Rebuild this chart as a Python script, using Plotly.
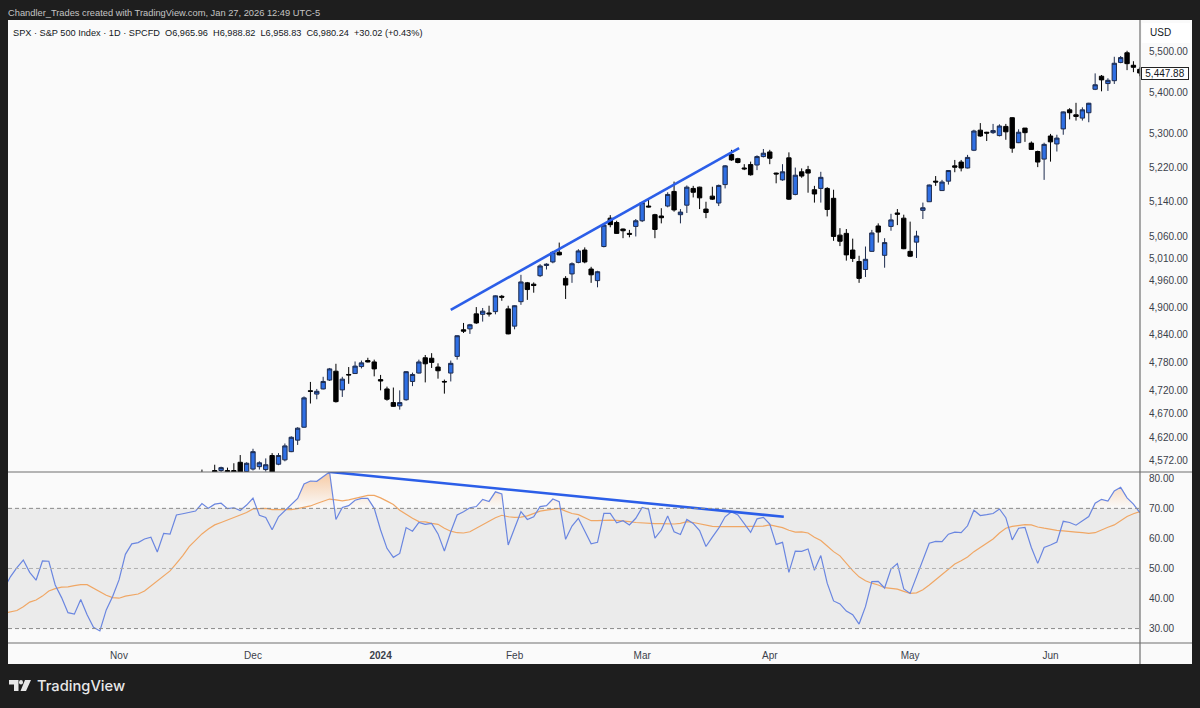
import numpy as np
import plotly.graph_objects as go

# Session index: 0 is the first bar of Nov 2023
bar_start = 13
bar_open = [
    4540,4535,4552,4552,4552,4552,4569,4550,4555,4560,
    4554,4583,4565,4574,4591,4615,4642,4719,4712,4723,
    4742,4761,4721,4754,4756,4771,4784,4781,4743,4723,
    4694,4687,4700,4739,4757,4790,4789,4770,4739,4757,
    4793,4851,4853,4886,4885,4888,4891,4925,4897,4859,
    4913,4955,4952,4971,4994,5002,5024,4965,4975,5001,
    5029,4986,4960,5037,5102,5092,5077,5067,5083,5096,
    5130,5110,5107,5130,5164,5110,5132,5171,5174,5123,
    5153,5137,5180,5251,5241,5219,5227,5226,5246,5257,
    5207,5191,5243,5157,5210,5215,5168,5171,5171,5148,
    5063,5067,5029,5003,4985,5026,5084,5017,5083,5114,
    5102,5026,5047,5120,5140,5188,5166,5188,5224,5233,
    5219,5261,5309,5304,5303,5296,5318,5339,5279,5314,
    5278,5258,5240,5295,5276,5312,5358,5346,5338,5351,
    5408,5440,5422,5429,5474,5498,5467,5457,
]
bar_high = [
    4554,4546,4564,4560,4558,4567,4584,4569,4597,4571,
    4577,4588,4588,4608,4623,4642,4707,4738,4723,4749,
    4768,4777,4749,4770,4782,4784,4790,4786,4753,4728,
    4726,4720,4761,4758,4786,4796,4800,4778,4743,4784,
    4839,4866,4864,4901,4899,4904,4927,4928,4904,4905,
    4973,4957,4956,4997,4999,5027,5046,4970,5001,5031,
    5035,4991,4982,5088,5109,5096,5078,5075,5100,5140,
    5148,5112,5125,5162,5187,5123,5178,5177,5175,5140,
    5175,5180,5226,5262,5243,5228,5234,5249,5264,5262,
    5208,5228,5256,5220,5218,5224,5177,5210,5174,5168,
    5079,5077,5055,5016,5037,5075,5090,5056,5112,5123,
    5110,5094,5073,5138,5180,5200,5191,5214,5238,5238,
    5250,5310,5326,5305,5324,5323,5324,5340,5311,5314,
    5282,5260,5279,5300,5298,5354,5362,5375,5364,5375,
    5447,5443,5435,5488,5490,5503,5477,5462,
]
bar_low = [
    4528,4522,4538,4549,4538,4540,4525,4546,4552,4554,
    4550,4540,4563,4571,4590,4605,4641,4692,4701,4722,
    4740,4694,4706,4734,4755,4767,4780,4750,4720,4698,
    4685,4679,4698,4729,4756,4737,4768,4745,4713,4739,
    4786,4844,4842,4864,4869,4880,4885,4915,4841,4852,
    4906,4917,4933,4968,4985,4999,5017,4919,4955,4999,
    4999,4955,4945,5035,5081,5066,5056,5058,5060,5093,
    5127,5056,5090,5127,5117,5090,5114,5150,5123,5102,
    5144,5130,5171,5236,5230,5214,5201,5214,5244,5228,
    5183,5189,5144,5155,5196,5161,5138,5138,5106,5050,
    5038,5005,5002,4955,4968,5025,5046,4989,5073,5086,
    5031,5013,5011,5100,5140,5177,5165,5180,5209,5211,
    5218,5259,5293,5283,5300,5294,5286,5255,5278,5281,
    5262,5221,5191,5234,5258,5298,5335,5332,5332,5328,
    5406,5403,5404,5421,5472,5455,5450,5440,
]
bar_close = [
    4535,4530,4542,4558,4545,4546,4530,4567,4591,4568,
    4564,4545,4583,4603,4621,4640,4704,4718,4718,4739,
    4766,4696,4744,4753,4772,4779,4781,4766,4740,4701,
    4686,4694,4760,4754,4781,4777,4780,4762,4738,4778,
    4838,4848,4862,4866,4892,4886,4926,4923,4842,4904,
    4957,4940,4949,4993,4997,5024,5018,4950,4998,5027,
    5002,4973,4980,5086,5087,5067,5073,5065,5096,5138,
    5128,5076,5103,5157,5121,5116,5174,5162,5149,5115,
    5146,5178,5224,5238,5232,5217,5203,5246,5254,5242,
    5205,5210,5146,5202,5200,5207,5158,5197,5122,5060,
    5049,5018,5010,4965,5008,5068,5070,5046,5098,5111,
    5032,5015,5061,5126,5179,5186,5186,5213,5221,5219,
    5244,5307,5295,5302,5308,5319,5305,5266,5304,5303,
    5263,5233,5275,5281,5290,5353,5351,5342,5358,5374,
    5419,5431,5430,5472,5486,5471,5462,5447.88,
]

# RSI and its moving average, starting at session -18
rsi_start = -18
rsi = [
    43.4,47.3,50.3,52.8,48.7,46.1,52.5,52.4,44.5,40.3,
    35.3,34.8,39.7,34.6,30.4,29.2,36.2,40.7,46.2,54.7,
    58.2,58.6,59.8,60.4,55.5,61.7,61.4,67.8,68.2,68.7,
    69.1,71.6,70.0,71.4,71.7,69.9,70.2,69.3,71.1,73.4,
    67.7,67.0,62.9,67.2,69.2,71.1,73.3,78.1,79.1,79.0,
    80.5,82.1,66.3,70.3,70.9,72.7,73.3,73.3,70.0,62.8,
    56.7,53.7,55.0,63.6,62.4,65.3,64.7,65.0,61.5,55.8,
    62.2,67.8,68.9,70.2,70.6,73.0,72.3,75.5,74.8,57.8,
    63.4,68.9,66.3,67.2,70.6,70.9,73.1,72.2,59.7,64.1,
    66.7,62.2,58.2,58.7,68.3,68.3,65.2,65.9,64.5,66.7,
    70.3,69.7,60.1,62.8,67.5,62.2,61.3,66.3,65.0,62.6,
    57.3,60.4,63.4,67.2,68.9,67.8,65.0,62.0,66.5,67.0,
    64.8,58.0,58.7,48.7,55.8,55.7,56.5,49.4,54.3,45.1,
    39.2,38.2,35.8,34.6,31.5,37.3,45.6,45.7,43.5,49.8,
    51.6,43.2,41.7,47.3,53.4,58.4,59.0,58.9,61.4,62.1,
    61.9,64.2,69.4,67.6,67.9,68.3,69.8,66.9,59.5,63.4,
    63.7,57.0,51.7,57.0,57.8,58.8,65.7,65.3,64.4,65.9,
    67.3,71.7,73.0,72.4,75.8,77.0,73.5,71.4,68.6,
]
rsi_ma = [
    35.1,35.6,36.0,37.3,38.8,39.5,40.8,42.5,43.3,43.8,
    43.9,44.3,44.6,44.6,43.4,42.1,41.1,40.3,40.1,40.8,
    41.1,41.5,42.5,44.2,45.6,47.6,49.2,51.7,54.3,57.3,
    59.5,61.5,63.1,64.5,65.3,66.1,67.0,67.6,68.6,69.8,
    70.0,70.0,69.6,69.6,69.4,69.6,69.9,70.3,70.8,71.6,
    72.3,73.1,72.8,72.5,72.8,73.3,74.0,74.3,74.3,73.5,
    72.4,71.3,69.4,68.0,66.7,65.6,65.5,65.0,64.7,63.4,
    62.4,61.9,61.8,62.2,63.4,64.7,65.9,66.9,67.7,67.2,
    67.0,67.1,67.5,68.3,69.1,69.4,69.7,70.0,69.1,68.3,
    67.9,67.0,65.9,65.9,66.1,66.1,66.0,65.9,65.6,65.3,
    65.1,65.0,64.9,64.9,64.8,64.8,65.0,65.6,65.3,64.8,
    64.4,64.0,63.9,63.9,63.8,63.7,63.9,64.0,64.0,64.1,
    64.5,64.0,63.6,62.7,62.1,62.2,61.8,60.4,59.3,57.5,
    55.6,54.2,51.7,49.3,47.2,45.9,45.1,44.5,43.6,43.4,
    43.1,42.4,41.7,41.9,42.9,44.5,46.3,47.9,49.8,51.5,
    52.6,53.8,55.6,57.0,58.3,59.8,61.8,63.4,64.0,64.4,
    64.6,64.5,63.8,63.4,63.0,62.7,62.5,62.4,62.1,61.9,
    61.7,61.9,62.9,63.7,64.5,65.8,67.3,68.2,68.9,
]

# hand drawn trend lines (session, value)
price_line_x = [52.0, 97.2]
price_line_y = [4895, 5266]
rsi_line_x = [33.1, 104.2]
rsi_line_y = [82.1, 67.2]

# axis labels
price_ticks = [5500, 5400, 5300, 5220, 5140, 5060, 5010, 4960, 4900, 4840, 4780, 4720, 4670, 4620, 4572]
rsi_ticks = [80, 70, 60, 50, 40, 30]
time_ticks = [0, 21, 41, 62, 82, 102, 124, 146]
time_labels = ["Nov", "Dec", "<b>2024</b>", "Feb", "Mar", "Apr", "May", "Jun"]
last_price = 5447.88

W, H = 1200, 708
FONT = "Liberation Sans, Arial, sans-serif"
BLUE = "#2f6fe4"
LINE_BLUE = "#2b5ee8"
DARK = "#131722"
AXIS = "#6f6f6f"


def px(x):
    return x / W


def py(y):
    return 1 - y / H


bars = np.arange(bar_start, bar_start + len(bar_open))
rsi_x = np.arange(rsi_start, rsi_start + len(rsi))
rsi_arr = np.array(rsi)

# overbought fill: RSI above 70, with the crossings of the level put in
ob_x, ob_y = [], []
for i in range(len(rsi_arr)):
    if i > 0 and (rsi_arr[i - 1] - 70) * (rsi_arr[i] - 70) < 0:
        t = (70 - rsi_arr[i - 1]) / (rsi_arr[i] - rsi_arr[i - 1])
        ob_x.append(rsi_x[i - 1] + t)
        ob_y.append(70)
    ob_x.append(rsi_x[i])
    ob_y.append(max(rsi_arr[i], 70))

fig = go.Figure()

fig.add_trace(go.Candlestick(
    x=bars, open=bar_open, high=bar_high, low=bar_low, close=bar_close,
    increasing=dict(line=dict(color="#1d2b4d", width=1), fillcolor=BLUE),
    decreasing=dict(line=dict(color="#000000", width=1), fillcolor="#000000"),
    whiskerwidth=0, xaxis="x", yaxis="y", showlegend=False,
))
fig.add_trace(go.Scatter(
    x=price_line_x, y=price_line_y, mode="lines",
    line=dict(color=LINE_BLUE, width=2.6), xaxis="x", yaxis="y", showlegend=False,
))

# fill baseline then fill
fig.add_trace(go.Scatter(
    x=ob_x, y=[70] * len(ob_x), mode="lines", line=dict(width=0),
    xaxis="x", yaxis="y2", showlegend=False,
))
fig.add_trace(go.Scatter(
    x=ob_x, y=ob_y, mode="lines", line=dict(width=0), fill="tonexty",
    fillgradient=dict(
        type="vertical", start=83, stop=70,
        colorscale=[[0, "rgba(245,170,105,0.65)"], [1, "rgba(245,170,105,0)"]],
    ),
    xaxis="x", yaxis="y2", showlegend=False,
))
fig.add_trace(go.Scatter(
    x=rsi_x, y=rsi_ma, mode="lines", line=dict(color="#f0a765", width=1.2),
    xaxis="x", yaxis="y2", showlegend=False,
))
fig.add_trace(go.Scatter(
    x=rsi_x, y=rsi, mode="lines", line=dict(color="#6a86e0", width=1.2),
    xaxis="x", yaxis="y2", showlegend=False,
))
fig.add_trace(go.Scatter(
    x=rsi_line_x, y=rsi_line_y, mode="lines",
    line=dict(color=LINE_BLUE, width=2.6), xaxis="x", yaxis="y2", showlegend=False,
))

shapes = [
    # chart panel
    dict(type="rect", xref="paper", yref="paper", x0=px(8), x1=px(1192), y0=py(664), y1=py(20),
         fillcolor="#fafafa", line_width=0, layer="below"),
    # box behind the currency
    dict(type="rect", xref="paper", yref="paper", x0=px(1142), x1=px(1190), y0=py(43), y1=py(23),
         fillcolor="#ffffff", line_width=0, layer="below"),
    # RSI band
    dict(type="rect", xref="x", yref="y2", x0=-17.4, x1=160.03, y0=30, y1=70,
         fillcolor="#ebebeb", line_width=0, layer="below"),
    # pane dividers
    dict(type="line", xref="paper", yref="paper", x0=px(8), x1=px(1192), y0=py(472), y1=py(472),
         line=dict(color=AXIS, width=1.2)),
    dict(type="line", xref="paper", yref="paper", x0=px(8), x1=px(1192), y0=py(643), y1=py(643),
         line=dict(color=AXIS, width=1.2)),
    dict(type="line", xref="paper", yref="paper", x0=px(1140), x1=px(1140), y0=py(664), y1=py(20),
         line=dict(color=AXIS, width=1.2)),
    # TradingView mark
    dict(type="path", xref="paper", yref="paper", fillcolor="#e8e8e8", line_width=0,
         path="M {} {} L {} {} L {} {} L {} {} L {} {} L {} {} Z".format(
             px(9), py(680), px(18.5), py(680), px(18.5), py(691), px(14), py(691), px(14), py(684.5), px(9), py(684.5))),
    dict(type="circle", xref="paper", yref="paper", fillcolor="#e8e8e8", line_width=0,
         x0=px(19), x1=px(23), y0=py(684.5), y1=py(680)),
    dict(type="path", xref="paper", yref="paper", fillcolor="#e8e8e8", line_width=0,
         path="M {} {} L {} {} L {} {} L {} {} Z".format(
             px(25), py(680), px(31), py(680), px(26), py(691), px(20.5), py(691))),
]
for level, colour in [(70, "#8a8a8a"), (50, "#b0b0b0"), (30, "#8a8a8a")]:
    shapes.append(dict(type="line", xref="x", yref="y2", x0=-17.4, x1=160.03, y0=level, y1=level,
                       line=dict(color=colour, width=1, dash="4px,3px")))

annotations = [
    dict(text="Chandler_Trades created with TradingView.com, Jan 27, 2026 12:49 UTC-5",
         x=px(6), y=py(13), font=dict(color="#c4c4c4", size=9.3)),
    dict(text="SPX · S&amp;P 500 Index · 1D · SPCFD&nbsp;&nbsp;O6,965.96&nbsp;&nbsp;H6,988.82&nbsp;&nbsp;L6,958.83&nbsp;&nbsp;C6,980.24&nbsp;&nbsp;+30.02 (+0.43%)",
         x=px(11), y=py(33), font=dict(color=DARK, size=9.2)),
    dict(text="USD", x=px(1148), y=py(33), font=dict(color=DARK, size=10)),
    dict(text="TradingView", x=px(35), y=py(686), font=dict(color="#e8e8e8", size=14.7, family="Inter", weight=500)),
    dict(text=f"{last_price:,.2f}", x=px(1141), y=py(73.5), bgcolor="#ffffff", bordercolor="#222222",
         borderwidth=1, borderpad=0, width=46, height=11, font=dict(color=DARK, size=10)),
]
for a in annotations:
    a.update(xref="paper", yref="paper", xanchor="left", yanchor="middle", showarrow=False, align="left")
annotations[-1]["align"] = "center"

tick_font = dict(family=FONT, size=10, color="#3a3f4b")

fig.update_layout(
    width=W, height=H,
    margin=dict(l=0, r=0, t=0, b=0),
    paper_bgcolor="#1e1e1e",
    plot_bgcolor="rgba(0,0,0,0)",
    font=dict(family=FONT),
    hovermode=False,
    boxgap=0.32,
    boxgroupgap=0,
    shapes=shapes,
    annotations=annotations,
    xaxis=dict(
        domain=[px(8), px(1140)], range=[-17.4, 160.03], anchor="y2",
        rangeslider=dict(visible=False), showgrid=False, zeroline=False,
        tickvals=time_ticks, ticktext=time_labels, tickfont=tick_font,
        ticks="outside", ticklen=3, tickcolor="rgba(0,0,0,0)",
    ),
    yaxis=dict(
        domain=[py(472), py(20)], type="log",
        range=[np.log10(4549), np.log10(5580)],
        side="right", anchor="x", showgrid=False, zeroline=False,
        tickvals=price_ticks, ticktext=[f"{v:,.2f}" for v in price_ticks],
        tickfont=tick_font, ticks="outside", ticklen=6, tickcolor="rgba(0,0,0,0)",
    ),
    yaxis2=dict(
        domain=[py(643), py(472)], range=[25.2, 82.1],
        side="right", anchor="x", showgrid=False, zeroline=False,
        tickvals=rsi_ticks, ticktext=[f"{v:.2f}" for v in rsi_ticks],
        tickfont=tick_font, ticks="outside", ticklen=6, tickcolor="rgba(0,0,0,0)",
    ),
)

fig.write_html(
    "out.html",
    config=dict(displayModeBar=False),
    post_script="document.body.style.margin='0';document.body.style.background='#1e1e1e';",
)
